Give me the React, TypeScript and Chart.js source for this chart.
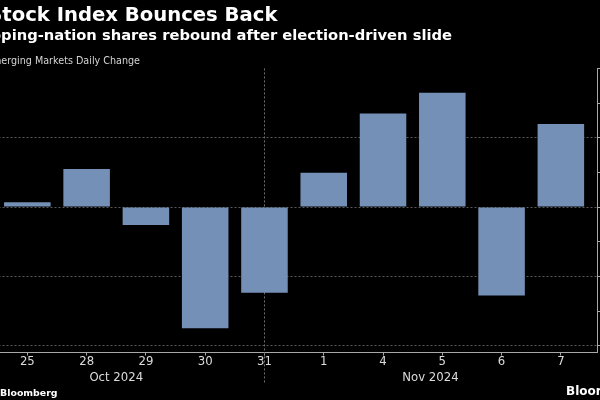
import { useEffect, useRef } from 'react';
import { Chart, registerables } from 'chart.js';

Chart.register(...registerables);

// ---- data ----
const dayLabels = ['25', '28', '29', '30', '31', '1', '4', '5', '6', '7'];
const dailyChange = [0.036, 0.275, -0.128, -0.873, -0.618, 0.248, 0.675, 0.825, -0.638, 0.599];
const monthLabels = ['Oct 2024', 'Nov 2024'];
const monthLabelAt = [1.5, 6.8];
const monthBoundaryAt = 4;
const yMin = -1.048;
const yMax = 1.0;
const yStep = 0.25;

const titleText = 'Stock Index Bounces Back';
const subtitleText = 'Developing-nation shares rebound after election-driven slide';
const seriesText = 'Emerging Markets Daily Change';
const sourceText = 'Bloomberg';
const logoText = 'Bloomberg';

// ---- style ----
const OFFSET = 40; // canvas shifted left inside the 600px frame
const BAR = '#7590b6';
const GRID = '#5a5a5a';
const AXIS = '#a8a8a8';
const TICK = '#dcdcdc';
const TICK_FONT = "'DejaVu Sans Condensed', 'Liberation Sans', sans-serif";

const isMajor = (v: number) => Math.abs(v * 2 - Math.round(v * 2)) < 1e-6;

// draw right-aligned text sized so that its visible tail spans a given width
function fitRight(
  c: CanvasRenderingContext2D,
  text: string,
  visibleTail: string,
  tailWidth: number,
  weight: string,
  family: string,
  right: number,
  baseline: number
) {
  const base = 20;
  c.font = `${weight} ${base}px ${family}`;
  const w = c.measureText(visibleTail).width;
  const size = (base * tailWidth) / w;
  c.font = `${weight} ${size.toFixed(2)}px ${family}`;
  c.textAlign = 'right';
  c.fillText(text, right, baseline);
}

export default function App() {
  const ref = useRef<HTMLCanvasElement>(null);

  useEffect(() => {
    const canvas = ref.current!;

    const decor = {
      id: 'decor',
      beforeDraw(chart: any) {
        const c = chart.ctx;
        c.save();
        c.fillStyle = '#000';
        c.fillRect(0, 0, chart.width, chart.height);
        c.restore();
      },
      beforeDatasetsDraw(chart: any) {
        const c = chart.ctx;
        const xs = chart.scales.x;
        const x = Math.round(xs.getPixelForValue(monthBoundaryAt)) + 0.5;
        c.save();
        c.strokeStyle = '#707070';
        c.lineWidth = 1;
        c.setLineDash([2, 2]);
        c.beginPath();
        c.moveTo(x, chart.chartArea.top);
        c.lineTo(x, 383);
        c.stroke();
        c.restore();
      },
      afterDraw(chart: any) {
        const c = chart.ctx;
        const xs = chart.scales.x;
        c.save();
        c.textBaseline = 'alphabetic';
        // titles
        c.fillStyle = '#ffffff';
        fitRight(c, titleText, 'tock Index Bounces Back', 275.5, 'bold', "'DejaVu Sans'", 277.5 + OFFSET, 21);
        fitRight(c, subtitleText, 'ping-nation shares rebound after election-driven slide', 451, 'bold', "'DejaVu Sans'", 452 + OFFSET, 39.5);
        c.fillStyle = '#d4d4d4';
        fitRight(c, seriesText, 'erging Markets Daily Change', 139, 'normal', "'DejaVu Sans'", 140 + OFFSET, 64);
        // month labels
        c.fillStyle = TICK;
        c.textAlign = 'center';
        c.font = `13px ${TICK_FONT}`;
        monthLabels.forEach((m, i) => {
          c.fillText(m, xs.getPixelForValue(monthLabelAt[i]), 380.5);
        });
        // footer
        c.fillStyle = '#ffffff';
        fitRight(c, sourceText, 'Bloomberg', 57.5, 'bold', "'DejaVu Sans'", 57.5 + OFFSET, 396);
        c.textAlign = 'left';
        c.font = "bold 12px 'DejaVu Sans'";
        c.fillText(logoText, 566 + OFFSET, 395);
        c.restore();
      },
    };

    const chart = new Chart(canvas, {
      type: 'bar',
      data: {
        datasets: [
          {
            data: dayLabels.map((_, i) => ({ x: i, y: dailyChange[i] })),
            backgroundColor: BAR,
            borderWidth: 0,
            barPercentage: 0.785,
            categoryPercentage: 1,
          },
        ],
      },
      options: {
        responsive: false,
        maintainAspectRatio: false,
        devicePixelRatio: 1,
        animation: false,
        layout: { padding: { left: 30.5, right: 0, top: 68.4, bottom: 0 } },
        plugins: {
          legend: { display: false },
          tooltip: { enabled: false },
          title: { display: false },
        },
        scales: {
          x: {
            type: 'linear',
            min: -0.6216,
            max: 9.6216,
            offset: false,
            grid: {
              offset: false,
              drawOnChartArea: false,
              drawTicks: true,
              tickLength: 3,
              tickColor: AXIS,
            },
            border: { display: true, color: AXIS, width: 1 },
            ticks: {
              stepSize: 1,
              includeBounds: false,
              autoSkip: false,
              maxRotation: 0,
              minRotation: 0,
              padding: -2,
              color: TICK,
              font: { family: TICK_FONT, size: 13 },
              callback: (v: any) => {
                const n = Number(v);
                return Number.isInteger(n) && dayLabels[n] !== undefined ? dayLabels[n] : '';
              },
            },
            afterFit: (s: any) => {
              s.height = 47.5;
            },
          },
          y: {
            type: 'linear',
            position: 'right',
            min: yMin,
            max: yMax,
            grid: {
              offset: false,
              drawOnChartArea: true,
              drawTicks: true,
              tickLength: 4,
              tickColor: AXIS,
              color: (ctx: any) => {
                const v = ctx.tick ? ctx.tick.value : NaN;
                return isMajor(v) && v < yMax - 1e-6 ? GRID : 'rgba(0,0,0,0)';
              },
            },
            border: { display: true, color: AXIS, width: 1, dash: [2, 2] },
            ticks: {
              stepSize: yStep,
              includeBounds: false,
              color: TICK,
              padding: 4,
              font: { family: TICK_FONT, size: 13 },
              callback: (v: any) => (isMajor(Number(v)) ? Number(v).toFixed(1) : ''),
            },
            afterFit: (s: any) => {
              s.width = 62.3;
            },
          },
        },
      } as any,
      plugins: [decor],
    });

    return () => chart.destroy();
  }, []);

  return (
    <div
      style={{
        position: 'fixed',
        left: 0,
        top: 0,
        width: 600,
        height: 400,
        overflow: 'hidden',
        background: '#000',
      }}
    >
      <canvas
        ref={ref}
        width={700}
        height={400}
        style={{ position: 'absolute', left: -OFFSET, top: 0, width: 700, height: 400 }}
      />
    </div>
  );
}
